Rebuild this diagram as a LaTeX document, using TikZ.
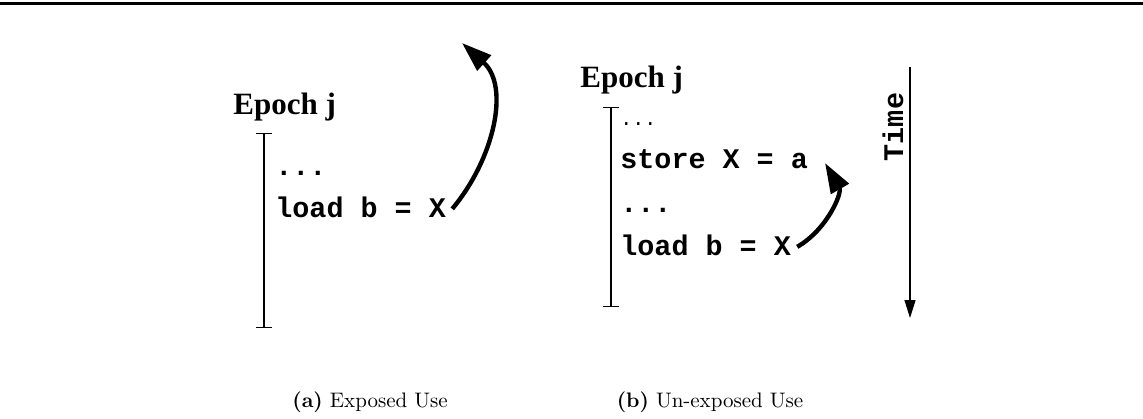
\documentclass[tikz,border=0pt]{standalone}
\usepackage{fontspec}
\usepackage{tikz}
\usetikzlibrary{arrows.meta}
\setmonofont{Liberation Mono}
\newfontfamily\epochfont{Liberation Serif}

\tikzset{
  epochlbl/.style={anchor=base west, inner sep=0pt, font=\epochfont\bfseries\fontsize{15.5}{18}\selectfont},
  codeline/.style={anchor=base west, inner sep=0pt, font=\ttfamily\bfseries\fontsize{14.2}{16}\selectfont},
  capline/.style={anchor=base, inner sep=0pt, font=\fontsize{10.5}{12}\selectfont},
  epochbar/.style={line width=0.6pt, {Bar[width=8pt]}-{Bar[width=8pt]}},
  bigarrow/.style={line width=2.2pt, -{Triangle[length=15pt,width=10pt]}},
}

\begin{document}
\begin{tikzpicture}[x=0.5pt,y=-0.5pt]
            \useasboundingbox (0,0) rectangle (1143,418);
            \draw[line width=1.5pt] (0,3) -- (1143,3);
            % (a) exposed use
            \node[epochlbl] (epochA) at (233,114) {Epoch j};
            \coordinate (barAtop) at (264,133);
            \coordinate (barAbot) at (264,328);
            \draw[epochbar] (barAtop) -- (barAbot);
            \node[codeline] (dotsA) at (275,175) {...};
            \node[codeline] (loadA) at (275,217) {load b = X};
            \coordinate (backA) at (462,43);
            \draw[bigarrow] ([xshift=3pt,yshift=-1pt]loadA.east) to[out=50,in=-42] (backA);
            \node[capline] (capA) at (370,407) {\textbf{(a)} Exposed Use};
            % (b) un-exposed use
            \node[epochlbl] (epochB) at (580,87) {Epoch j};
            \coordinate (barBtop) at (611,107);
            \coordinate (barBbot) at (611,307);
            \draw[epochbar] (barBtop) -- (barBbot);
            \node[codeline, font=\ttfamily\fontsize{10}{12}\selectfont] (dotsB1) at (620,125) {...};
            \node[codeline] (storeB) at (620,168) {store X = a};
            \node[codeline] (dotsB2) at (620,212) {...};
            \node[codeline] (loadB) at (620,255) {load b = X};
            \coordinate (backB) at (825,163);
            \draw[bigarrow] ([xshift=3pt,yshift=-1pt]loadB.east) to[out=30,in=-60] (backB);
            \coordinate (timeTop) at (910,67);
            \coordinate (timeBot) at (910,318);
            \draw[line width=0.7pt, -{Triangle[length=9pt,width=5.5pt]}] (timeTop) -- (timeBot);
            \node[font=\ttfamily\bfseries\fontsize{14.2}{16}\selectfont, rotate=90, inner sep=0pt] (timeL) at (893,127) {Time};
            \node[capline] (capB) at (710,407) {\textbf{(b)} Un-exposed Use};
        \end{tikzpicture}
\end{document}
